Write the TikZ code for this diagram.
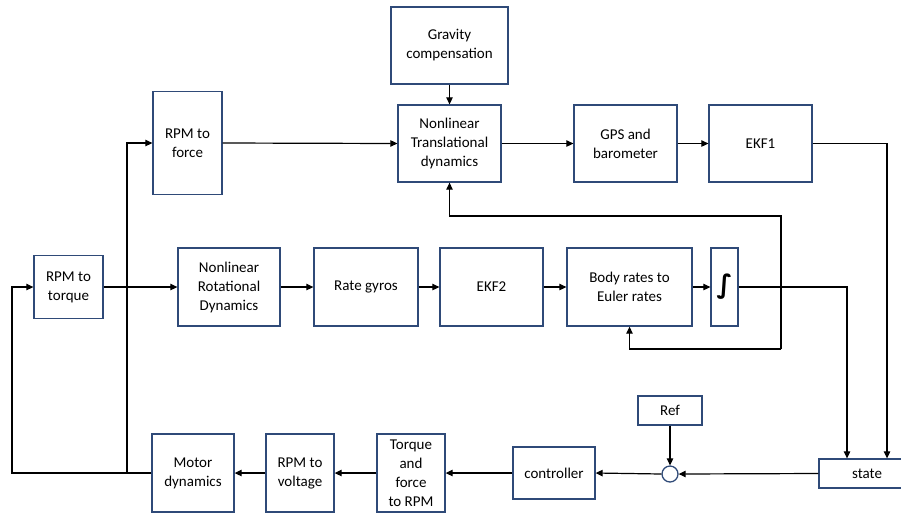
\documentclass[tikz,border=0pt]{standalone}
\usepackage{fontspec}
\setmainfont{Carlito}
\newfontfamily\dvfont{DejaVu Sans}
\usetikzlibrary{arrows.meta}
\definecolor{boxblue}{HTML}{2F4A78}
\begin{document}
\begin{tikzpicture}[x=1pt,y=-1pt,
  blk/.style={draw=boxblue,line width=1.3pt,fill=white,align=center,inner sep=1pt,
    font=\fontsize{15}{19}\selectfont},
  conn/.style={line width=1.2pt,black},
  arr/.style={conn,-{Triangle[length=7pt,width=6.5pt]}}]
\useasboundingbox (0,0) rectangle (901,515);
% top row
\node[blk,minimum width=117pt,minimum height=77pt] (grav) at (449.5,45.5) {Gravity\\compensation};
\node[blk,minimum width=103pt,minimum height=77pt] (nt) at (449.5,143.5) {Nonlinear\\Translational\\dynamics};
\node[blk,minimum width=103pt,minimum height=77pt] (gps) at (625.5,143.5) {GPS and\\barometer};
\node[blk,minimum width=103pt,minimum height=77pt] (ekf1) at (760.5,143.5) {EKF1};
\node[blk,minimum width=69pt,minimum height=103pt] (rpmf) at (187.5,143) {RPM to\\force};
% middle row
\node[blk,minimum width=69pt,minimum height=63pt] (rpmt) at (68.5,287) {RPM to\\torque};
\node[blk,minimum width=102pt,minimum height=78pt] (nr) at (229,287) {Nonlinear\\Rotational\\Dynamics};
\node[blk,minimum width=104pt,minimum height=78pt] (rg) at (366,287) {Rate gyros};
\node[blk,minimum width=103pt,minimum height=78pt] (ekf2) at (491.5,287) {EKF2};
\node[blk,minimum width=125pt,minimum height=78pt] (body) at (629.5,287) {Body rates to\\Euler rates};
\node[blk,minimum width=27pt,minimum height=78pt,font=\dvfont\bfseries\fontsize{26}{26}\selectfont] (int) at (724.5,287) {∫};
% bottom row
\node[blk,minimum width=64pt,minimum height=29pt] (ref) at (670,410.5) {Ref};
\node[draw=boxblue,line width=1.3pt,fill=white,circle,minimum size=16pt,inner sep=0pt] (sum) at (670,474) {};
\node[blk,minimum width=96pt,minimum height=29pt] (state) at (867,473.5) {state};
\node[blk,minimum width=82pt,minimum height=52pt] (ctrl) at (554,473) {controller};
\node[blk,minimum width=68pt,minimum height=78pt] (tfr) at (411,473) {Torque\\and\\force\\to RPM};
\node[blk,minimum width=68pt,minimum height=78pt] (rpmv) at (300,473) {RPM to\\voltage};
\node[blk,minimum width=82pt,minimum height=78pt] (motor) at (193,473) {Motor\\dynamics};
% coordinates
\coordinate (ekfc) at (887,143.5);
\coordinate (intc) at (847,287);
\coordinate (fbb) at (781,349);
\coordinate (fbt) at (781,216);
\coordinate (lft) at (12,473);
\coordinate (jn) at (127,473);
% connectors top
\draw[arr] (grav.south) -- (nt.north);
\draw[arr] (rpmf.east) -- (nt.west);
\draw[arr] (nt.east) -- (gps.west);
\draw[arr] (gps.east) -- (ekf1.west);
\draw[arr] (ekf1.east) -- (ekfc) -- (ekfc |- state.north);
% middle
\draw[arr] (rpmt.east) -- (nr.west);
\draw[arr] (nr.east) -- (rg.west);
\draw[arr] (rg.east) -- (ekf2.west);
\draw[arr] (ekf2.east) -- (body.west);
\draw[arr] (body.east) -- (int.west);
\draw[arr] (int.east) -- (intc) -- (intc |- state.north);
\draw[arr] (fbb) -- (fbt) -| (nt.south);
\draw[arr] (fbb) -| (body.south);
% bottom
\draw[arr] (state.west) -- (sum.east);
\draw[arr] (ref.south) -- (sum.north);
\draw[arr] (sum.west) -- (ctrl.east);
\draw[arr] (ctrl.west) -- (tfr.east);
\draw[arr] (tfr.west) -- (rpmv.east);
\draw[arr] (rpmv.west) -- (motor.east);
\draw[arr] (motor.west) -- (lft) |- (rpmt.west);
\draw[arr] (jn) |- (rpmf.west);
\end{tikzpicture}
\end{document}
